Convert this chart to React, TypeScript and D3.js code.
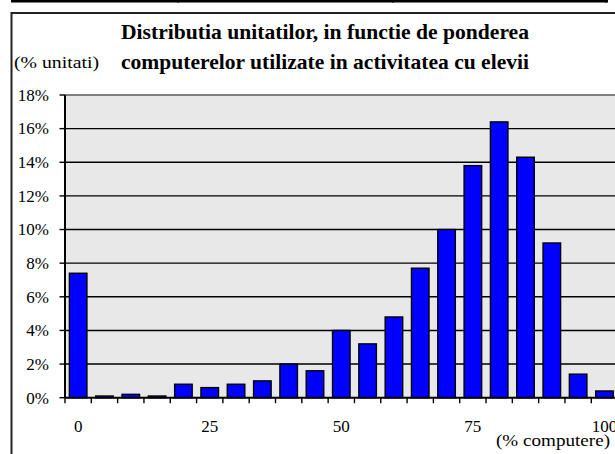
import React from "react";
import * as d3 from "d3";

const categories: number[] = [0, 5, 10, 15, 20, 25, 30, 35, 40, 45, 50, 55, 60, 65, 70, 75, 80, 85, 90, 95, 100];
const values: number[] = [7.4, 0.1, 0.2, 0.1, 0.8, 0.6, 0.8, 1.0, 2.0, 1.6, 4.0, 3.2, 4.8, 7.7, 10.0, 13.8, 16.4, 14.3, 9.2, 1.4, 0.4];
const yTicks: number[] = [0, 2, 4, 6, 8, 10, 12, 14, 16, 18];
const xTickLabels: number[] = [0, 25, 50, 75, 100];
const titleLines: string[] = [
  "Distributia unitatilor, in functie de ponderea",
  "computerelor utilizate in activitatea cu elevii",
];
const yAxisTitle = "(% unitati)";
const xAxisTitle = "(% computere)";

const W = 615;
const H = 454;
const plotLeft = 65;
const plotRight = 617.6;
const plotTop = 95;
const plotBottom = 397.7;
const serif = "'Liberation Serif', 'Times New Roman', Times, serif";

export default function App() {
  const x = d3
    .scaleBand<string>()
    .domain(categories.map(String))
    .range([plotLeft, plotRight])
    .paddingInner(1 / 3)
    .paddingOuter(1 / 6);
  const step = x.step();
  const y = d3.scaleLinear().domain([0, 18]).range([plotBottom, plotTop]);

  return (
    <svg
      width={W}
      height={H}
      style={{ position: "absolute", left: 0, top: 0, background: "#fff" }}
      fontFamily={serif}
    >
      {/* table row remnant at the top */}
      <line x1={11} x2={608} y1={1.3} y2={1.3} stroke="#000" strokeWidth={2.6} />
      {[178, 393, 606].map((vx) => (
        <line key={vx} x1={vx} x2={vx} y1={0} y2={2.5} stroke="#000" strokeWidth={2} />
      ))}

      {/* chart frame */}
      <rect x={11.5} y={13} width={700} height={600} fill="#fff" stroke="#222" strokeWidth={2} />

      {/* title */}
      {titleLines.map((t, i) => (
        <text
          key={i}
          x={121}
          y={39 + i * 29.5}
          fontSize={21}
          fontWeight="bold"
          textLength={408}
          lengthAdjust="spacingAndGlyphs"
        >
          {t}
        </text>
      ))}
      <text x={14} y={68} fontSize={17} textLength={85} lengthAdjust="spacingAndGlyphs">
        {yAxisTitle}
      </text>

      {/* plot area */}
      <rect x={plotLeft} y={plotTop} width={plotRight - plotLeft + 20} height={plotBottom - plotTop} fill="#e8e8e8" />
      <line x1={plotLeft} x2={W} y1={plotTop} y2={plotTop} stroke="#808080" strokeWidth={2} />

      {/* gridlines */}
      {yTicks
        .filter((t) => t > 0 && t < 18)
        .map((t) => (
          <line key={t} x1={plotLeft} x2={W} y1={y(t)} y2={y(t)} stroke="#000" strokeWidth={1.4} />
        ))}

      {/* bars */}
      {values.map((v, i) => (
        <rect
          key={i}
          x={x(String(categories[i]))!}
          y={y(v)}
          width={x.bandwidth()}
          height={plotBottom - y(v)}
          fill="#0000ff"
          stroke="#000"
          strokeWidth={1.4}
        />
      ))}

      {/* y axis */}
      <line x1={plotLeft} x2={plotLeft} y1={plotTop} y2={plotBottom} stroke="#000" strokeWidth={2} />
      {yTicks.map((t) => (
        <g key={t}>
          <line x1={plotLeft - 5.5} x2={plotLeft} y1={y(t)} y2={y(t)} stroke="#000" strokeWidth={1.4} />
          <text x={49} y={y(t) + 5.8} fontSize={17} textAnchor="end">
            {t}%
          </text>
        </g>
      ))}

      {/* x axis */}
      <line x1={plotLeft} x2={W} y1={plotBottom} y2={plotBottom} stroke="#000" strokeWidth={2} />
      {d3.range(categories.length + 1).map((k) => (
        <line
          key={k}
          x1={plotLeft + k * step}
          x2={plotLeft + k * step}
          y1={plotBottom}
          y2={plotBottom + 5.5}
          stroke="#000"
          strokeWidth={1.4}
        />
      ))}
      {xTickLabels.map((c) => (
        <text
          key={c}
          x={x(String(c))! + x.bandwidth() / 2}
          y={431.5}
          fontSize={17}
          textAnchor="middle"
        >
          {c}
        </text>
      ))}
      <text x={496} y={445.5} fontSize={17} textLength={114} lengthAdjust="spacingAndGlyphs">
        {xAxisTitle}
      </text>
    </svg>
  );
}
